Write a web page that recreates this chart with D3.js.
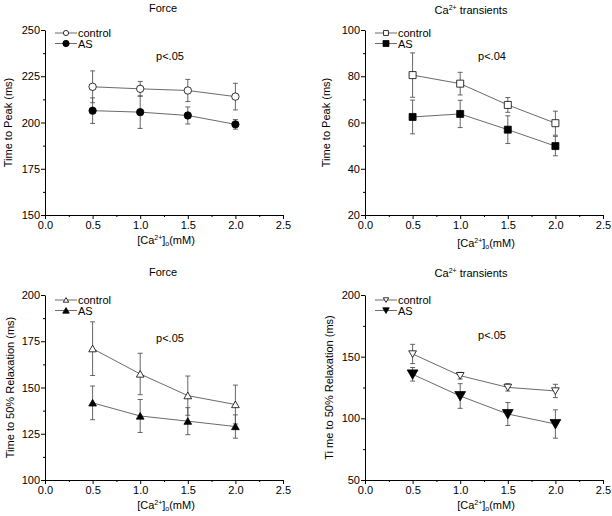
<!DOCTYPE html>
<html>
<head>
<meta charset="utf-8">
<script src="https://cdn.jsdelivr.net/npm/d3@7"></script>
<style>
  html, body { margin: 0; padding: 0; background: #fff; }
  svg { display: block; font-family: "Liberation Sans", Arial, Helvetica, sans-serif; }
</style>
</head>
<body>
<svg id="chart" width="612" height="516"></svg>
<script>
// ---------- data ----------
const xValues = [0.5, 1.0, 1.5, 2.0];
const xTicks = [0.0, 0.5, 1.0, 1.5, 2.0, 2.5];
const seriesNames = ["control", "AS"];

// Panel A: Force, time to peak
const forcePeakControl = [219.3, 218.2, 217.3, 214.0];
const forcePeakControlErr = [8.6, 4.0, 6.0, 7.2];
const forcePeakAS = [206.4, 205.6, 203.8, 199.0];
const forcePeakASErr = [6.9, 8.8, 4.6, 2.6];
const forcePeakTicks = [150, 175, 200, 225, 250];

// Panel B: Ca transients, time to peak
const caPeakControl = [80.5, 76.8, 67.6, 59.7];
const caPeakControlErr = [9.6, 4.9, 3.2, 5.2];
const caPeakAS = [62.4, 63.7, 56.9, 49.8];
const caPeakASErr = [7.3, 5.9, 6.0, 4.2];
const caPeakTicks = [20, 40, 60, 80, 100];

// Panel C: Force, time to 50% relaxation
const forceRelControl = [171.0, 157.3, 145.6, 140.8];
const forceRelControlErr = [14.5, 11.2, 10.6, 10.5];
const forceRelAS = [141.7, 134.6, 131.8, 128.9];
const forceRelASErr = [9.1, 8.9, 7.3, 6.3];
const forceRelTicks = [100, 125, 150, 175, 200];

// Panel D: Ca transients, time to 50% relaxation
const caRelControl = [152.2, 134.6, 125.1, 122.2];
const caRelControlErr = [7.8, 2.7, 3.0, 5.4];
const caRelAS = [135.7, 118.1, 103.5, 95.4];
const caRelASErr = [5.5, 10.0, 9.3, 11.5];
const caRelTicks = [50, 100, 150, 200];

const panels = [
  { title: "Force", sup: null, ylabel: "Time to Peak (ms)", pval: "p<.05",
    ctrl: forcePeakControl, ctrlErr: forcePeakControlErr, as: forcePeakAS, asErr: forcePeakASErr,
    yTicks: forcePeakTicks, minorStep: 12.5, marker: "circle",
    box: { x0: 45, x1: 283, y0: 30, y1: 215 }, titleY: 12, pY: 60, pX: 170, legY: 33, xlabY: 244, ylabX: 12, asSize: 1 },
  { title: "Ca", sup: "2+", ylabel: "Time to Peak (ms)", pval: "p<.04",
    ctrl: caPeakControl, ctrlErr: caPeakControlErr, as: caPeakAS, asErr: caPeakASErr,
    yTicks: caPeakTicks, minorStep: 10, marker: "square",
    box: { x0: 365, x1: 603, y0: 30, y1: 215 }, titleY: 14, pY: 60, pX: 492, legY: 33, xlabY: 247, ylabX: 330, asSize: 1 },
  { title: "Force", sup: null, ylabel: "Time to 50% Relaxation (ms)", pval: "p<.05",
    ctrl: forceRelControl, ctrlErr: forceRelControlErr, as: forceRelAS, asErr: forceRelASErr,
    yTicks: forceRelTicks, minorStep: 12.5, marker: "triUp",
    box: { x0: 45, x1: 283, y0: 295, y1: 480 }, titleY: 276, pY: 342, pX: 170, legY: 300, xlabY: 509, ylabX: 14, asSize: 1 },
  { title: "Ca", sup: "2+", ylabel: "Ti me to 50% Relaxation (ms)", pval: "p<.05",
    ctrl: caRelControl, ctrlErr: caRelControlErr, as: caRelAS, asErr: caRelASErr,
    yTicks: caRelTicks, minorStep: 25, marker: "triDown",
    box: { x0: 365, x1: 603, y0: 295, y1: 480 }, titleY: 277, pY: 339, pX: 492, legY: 300, xlabY: 509, ylabX: 333, asSize: 1.4 }
];

const svg = d3.select("#chart");
const FS = 11;

function markerPath(type, s) {
  if (type === "square") return `M${-s},${-s}H${s}V${s}H${-s}Z`;
  if (type === "triUp") return `M0,${-s}L${s * 1.1},${s * 0.9}L${-s * 1.1},${s * 0.9}Z`;
  if (type === "triDown") return `M0,${s}L${s * 1.1},${-s * 0.9}L${-s * 1.1},${-s * 0.9}Z`;
  return null;
}

function drawMarker(g, type, cx, cy, filled, scale) {
  const fill = filled ? "#000" : "#fff";
  if (type === "circle") {
    g.append("circle").attr("cx", cx).attr("cy", cy).attr("r", 3.7 * scale)
      .attr("fill", fill).attr("stroke", "#000").attr("stroke-width", 0.8);
  } else {
    g.append("path").attr("d", markerPath(type, 3.5 * scale))
      .attr("transform", `translate(${cx},${cy})`)
      .attr("fill", fill).attr("stroke", "#000").attr("stroke-width", 0.8);
  }
}

panels.forEach(p => {
  const b = p.box;
  const x = d3.scaleLinear().domain([0, 2.5]).range([b.x0, b.x1]);
  const yMin = p.yTicks[0], yMax = p.yTicks[p.yTicks.length - 1];
  const y = d3.scaleLinear().domain([yMin, yMax]).range([b.y1, b.y0]);
  const g = svg.append("g");

  const xMinor = d3.range(0.25, 2.5, 0.5);
  const yMinor = d3.range(yMin + p.minorStep, yMax, p.minorStep * 2);

  const xAxis = d3.axisBottom(x).tickValues(xTicks).tickFormat(d3.format(".1f")).tickSizeInner(4).tickSizeOuter(0).tickPadding(2);
  const yAxis = d3.axisLeft(y).tickValues(p.yTicks).tickFormat(d3.format("d")).tickSizeInner(4).tickSizeOuter(0).tickPadding(1);

  const gx = g.append("g").attr("transform", `translate(0,${b.y1})`).call(xAxis);
  const gy = g.append("g").attr("transform", `translate(${b.x0},0)`).call(yAxis);
  [gx, gy].forEach(ax => {
    ax.selectAll("text").attr("font-size", FS).attr("font-family", "Liberation Sans, Arial, sans-serif").attr("fill", "#000");
    ax.select(".domain").attr("stroke", "#000").attr("stroke-width", 1);
    ax.selectAll(".tick line").attr("stroke", "#000");
  });
  g.append("g").attr("transform", `translate(0,${b.y1})`)
    .call(d3.axisBottom(x).tickValues(xMinor).tickFormat("").tickSizeInner(2).tickSizeOuter(0))
    .call(a => a.select(".domain").remove());
  g.append("g").attr("transform", `translate(${b.x0},0)`)
    .call(d3.axisLeft(y).tickValues(yMinor).tickFormat("").tickSizeInner(2).tickSizeOuter(0))
    .call(a => a.select(".domain").remove());

  const series = [
    { vals: p.ctrl, err: p.ctrlErr, filled: false, scale: 1 },
    { vals: p.as, err: p.asErr, filled: true, scale: p.asSize }
  ];
  const line = d3.line().x((d, i) => x(xValues[i])).y(d => y(d));
  series.forEach(s => {
    g.append("path").datum(s.vals).attr("d", line)
      .attr("fill", "none").attr("stroke", "#444").attr("stroke-width", 0.8);
  });
  series.forEach(s => {
    s.vals.forEach((v, i) => {
      const cx = x(xValues[i]);
      const top = y(v + s.err[i]), bot = y(v - s.err[i]);
      g.append("line").attr("x1", cx).attr("x2", cx).attr("y1", top).attr("y2", bot)
        .attr("stroke", "#555").attr("stroke-width", 0.9);
      [top, bot].forEach(yy => g.append("line").attr("x1", cx - 2.5).attr("x2", cx + 2.5)
        .attr("y1", yy).attr("y2", yy).attr("stroke", "#555").attr("stroke-width", 0.9));
    });
  });
  series.forEach(s => {
    s.vals.forEach((v, i) => drawMarker(g, p.marker, x(xValues[i]), y(v), s.filled, s.scale));
  });

  seriesNames.forEach((name, k) => {
    const ly = p.legY + k * 10.5;
    const lx0 = b.x0 + 10;
    g.append("line").attr("x1", lx0).attr("x2", lx0 + 22).attr("y1", ly).attr("y2", ly)
      .attr("stroke", "#444").attr("stroke-width", 0.8);
    drawMarker(g, p.marker, lx0 + 11, ly, k === 1, k === 1 ? 0.85 : 0.7);
    g.append("text").attr("x", lx0 + 23).attr("y", ly + 4).attr("font-size", FS).text(name);
  });

  g.append("text").attr("x", p.pX).attr("y", p.pY).attr("text-anchor", "middle").attr("font-size", FS).text(p.pval);

  const t = g.append("text").attr("y", p.titleY).attr("text-anchor", "middle").attr("font-size", FS);
  if (p.sup) {
    t.attr("x", (b.x0 + b.x1) / 2 - 13);
    t.append("tspan").text(p.title);
    t.append("tspan").attr("font-size", 7).attr("dy", -4).text(p.sup);
    t.append("tspan").attr("dy", 4).text(" transients");
  } else {
    t.attr("x", (b.x0 + b.x1) / 2 - 1).text(p.title);
  }

  const xl = g.append("text").attr("x", (b.x0 + b.x1) / 2 + 2).attr("y", p.xlabY).attr("text-anchor", "middle").attr("font-size", FS);
  xl.append("tspan").text("[Ca");
  xl.append("tspan").attr("font-size", 7).attr("dy", -4).text("2+");
  xl.append("tspan").attr("dy", 4).text("]");
  xl.append("tspan").attr("font-size", 7).attr("dy", 2).text("o");
  xl.append("tspan").attr("dy", -2).text("(mM)");

  g.append("text").attr("transform", `translate(${p.ylabX},${(b.y0 + b.y1) / 2}) rotate(-90)`)
    .attr("text-anchor", "middle").attr("font-size", FS).text(p.ylabel);
});
</script>
</body>
</html>
